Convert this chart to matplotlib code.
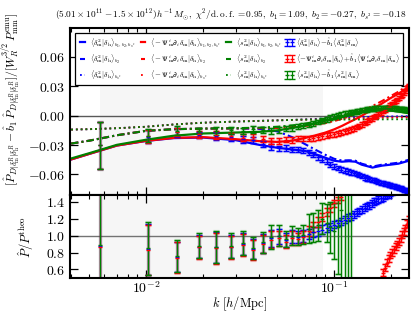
import numpy as np
import matplotlib
matplotlib.use("Agg")
import matplotlib.pyplot as plt
from matplotlib.ticker import FixedLocator, FuncFormatter, NullFormatter

plt.rcParams['font.family'] = 'serif'
plt.rcParams['font.serif'] = ['DejaVu Serif']
plt.rcParams['mathtext.fontset'] = 'cm'

# k bins of the measured points [h/Mpc]
k_bins = [0.0057, 0.0102, 0.0147, 0.0192, 0.0237, 0.0282, 0.0327, 0.0372, 0.0417, 0.0462,
          0.0507, 0.0552, 0.0597, 0.0642, 0.0687, 0.0732, 0.0777, 0.0822, 0.0867, 0.0912,
          0.0957, 0.1002, 0.1047, 0.1092, 0.1137, 0.1182, 0.1227, 0.1272, 0.1317, 0.1362,
          0.1407, 0.1452, 0.1497, 0.1542, 0.1587, 0.1632, 0.1677, 0.1722, 0.1767, 0.1812,
          0.1857, 0.1902, 0.1947, 0.1992, 0.2037, 0.2082, 0.2127, 0.2172, 0.2217, 0.2262,
          0.2307, 0.2352, 0.2397, 0.2442, 0.2487]

# measured points, upper panel
blue_up = [-0.0300, -0.0214, -0.0170, -0.0195, -0.0204, -0.0219, -0.0243, -0.0250, -0.0285, -0.0318,
           -0.0335, -0.0330, -0.0348, -0.0350, -0.0360, -0.0380, -0.0400, -0.0425, -0.0450, -0.0470,
           -0.0500, -0.0520, -0.0535, -0.0550, -0.0560, -0.0570, -0.0580, -0.0585, -0.0595, -0.0605,
           -0.0615, -0.0630, -0.0640, -0.0650, -0.0655, -0.0660, -0.0670, -0.0680, -0.0685, -0.0690,
           -0.0695, -0.0700, -0.0705, -0.0710, -0.0715, -0.0720, -0.0725, -0.0730, -0.0735, -0.0742,
           -0.0750, -0.0757, -0.0763, -0.0770, -0.0780]
red_up = [-0.0300, -0.0212, -0.0168, -0.0191, -0.0197, -0.0208, -0.0223, -0.0213, -0.0236, -0.0255,
          -0.0262, -0.0245, -0.0248, -0.0236, -0.0230, -0.0235, -0.0230, -0.0222, -0.0210, -0.0205,
          -0.0195, -0.0190, -0.0180, -0.0175, -0.0160, -0.0150, -0.0140, -0.0130, -0.0115, -0.0103,
          -0.0090, -0.0075, -0.0060, -0.0045, -0.0030, -0.0015, 0.0000, 0.0015, 0.0030, 0.0045,
          0.0060, 0.0075, 0.0090, 0.0105, 0.0120, 0.0135, 0.0150, 0.0165, 0.0180, 0.0197,
          0.0215, 0.0235, 0.0255, 0.0280, 0.0305]
green_up = [-0.0300, -0.0205, -0.0152, -0.0160, -0.0154, -0.0151, -0.0154, -0.0141, -0.0150, -0.0154,
            -0.0148, -0.0131, -0.0125, -0.0113, -0.0103, -0.0095, -0.0080, -0.0065, -0.0050, -0.0035,
            -0.0020, -0.0010, 0.0003, 0.0012, 0.0020, 0.0028, 0.0035, 0.0040, 0.0045, 0.0050,
            0.0055, 0.0060, 0.0064, 0.0068, 0.0071, 0.0073, 0.0075, 0.0076, 0.0077, 0.0078,
            0.0078, 0.0078, 0.0077, 0.0077, 0.0076, 0.0075, 0.0074, 0.0072, 0.0070, 0.0068,
            0.0066, 0.0064, 0.0062, 0.0060, 0.0058]
err_up = [0.0240, 0.0068, 0.0043, 0.0032, 0.0040, 0.0035, 0.0033, 0.0031, 0.0030, 0.0030,
          0.0029, 0.0028, 0.0027, 0.0026, 0.0025, 0.0025, 0.0025, 0.0025, 0.0025, 0.0025,
          0.0025, 0.0024, 0.0024, 0.0024, 0.0024, 0.0023, 0.0023, 0.0023, 0.0023, 0.0023,
          0.0022, 0.0022, 0.0022, 0.0022, 0.0022, 0.0022, 0.0021, 0.0021, 0.0021, 0.0021,
          0.0021, 0.0021, 0.0021, 0.0020, 0.0020, 0.0020, 0.0020, 0.0020, 0.0020, 0.0020,
          0.0020, 0.0020, 0.0020, 0.0020, 0.0020]

# ratio to theory, lower panel
blue_ratio = [0.88, 0.84, 0.75, 0.87, 0.86, 0.87, 0.90, 0.84, 0.91, 0.97, 0.99, 0.95, 0.99, 0.98, 1.00,
              1.02, 1.04, 1.05, 1.07, 1.09, 1.11, 1.13, 1.15, 1.17, 1.19, 1.21, 1.23, 1.25, 1.27, 1.29,
              1.31, 1.33, 1.35, 1.36, 1.38, 1.40, 1.41, 1.43, 1.44, 1.45, 1.47, 1.48, 1.49, 1.51, 1.52,
              1.53, 1.54, 1.55, 1.56, 1.57, 1.58, 1.59, 1.60, 1.61, 1.62]
red_ratio = [0.87, 0.83, 0.74, 0.86, 0.85, 0.86, 0.89, 0.83, 0.90, 0.95, 0.97, 0.93, 0.97, 0.96, 0.98,
             1.05, 1.10, 1.16, 1.22, 1.28, 1.33, 1.38, 1.42, 1.46, np.nan, np.nan, np.nan, np.nan, np.nan, np.nan,
             np.nan, np.nan, np.nan, np.nan, np.nan, np.nan, np.nan, np.nan, np.nan, 0.56, 0.62, 0.68, 0.73, 0.77, 0.80,
             0.84, 0.87, 0.90, 0.93, 0.97, 1.01, 1.05, 1.09, 1.14, 1.19]
green_ratio = [0.89, 0.85, 0.76, 0.88, 0.87, 0.88, 0.91, 0.85, 0.92, 0.98, 1.00, 0.96, 1.00, 0.99, 1.01,
               1.08, 1.10, 1.12, 1.20, 1.15, 1.10, 1.05, 1.10, 1.30, 1.60, 2.20, 3.50, np.nan, np.nan, np.nan,
               np.nan, np.nan, np.nan, np.nan, np.nan, np.nan, np.nan, np.nan, np.nan, np.nan, np.nan, np.nan, np.nan, np.nan, np.nan,
               np.nan, np.nan, np.nan, np.nan, np.nan, np.nan, np.nan, np.nan, np.nan, np.nan]
err_ratio = [0.75, 0.30, 0.18, 0.14, 0.18, 0.14, 0.13, 0.12, 0.11, 0.10, 0.09, 0.08, 0.08, 0.07, 0.07,
             0.06, 0.06, 0.055, 0.05, 0.05, 0.045, 0.045, 0.04, 0.04, 0.04, 0.04, 0.04, 0.04, 0.04, 0.04,
             0.04, 0.04, 0.04, 0.04, 0.04, 0.04, 0.04, 0.04, 0.04, 0.04, 0.04, 0.04, 0.04, 0.04, 0.04,
             0.04, 0.04, 0.04, 0.04, 0.04, 0.04, 0.04, 0.04, 0.04, 0.04]
err_green_ratio = [0.78, 0.31, 0.19, 0.15, 0.19, 0.15, 0.14, 0.13, 0.12, 0.14, 0.12, 0.10, 0.11, 0.10, 0.11,
                   0.17, 0.17, 0.18, 0.18, 0.22, 0.30, 0.33, 0.55, 0.90, 1.40, 2.20, 3.30, np.nan, np.nan, np.nan,
                   np.nan, np.nan, np.nan, np.nan, np.nan, np.nan, np.nan, np.nan, np.nan, np.nan, np.nan, np.nan, np.nan, np.nan, np.nan,
                   np.nan, np.nan, np.nan, np.nan, np.nan, np.nan, np.nan, np.nan, np.nan, np.nan]

# model curves (full / b2 only / bs2 only)
k_model = [0.004, 0.005, 0.007, 0.01, 0.014, 0.02, 0.03, 0.04, 0.05, 0.06, 0.07, 0.08,
           0.09, 0.1, 0.11, 0.12, 0.13, 0.14, 0.16, 0.18, 0.2, 0.22, 0.25]
blue_full = [-0.0447, -0.0390, -0.0305, -0.0258, -0.0229, -0.0223, -0.0250, -0.0298, -0.0328, -0.0345, -0.0360, -0.0395,
             -0.0430, -0.0460, -0.0470, -0.0465, -0.0470, -0.0500, -0.0530, -0.0510, -0.0500, -0.0490, -0.0460]
red_full = [-0.0447, -0.0390, -0.0305, -0.0257, -0.0227, -0.0219, -0.0240, -0.0260, -0.0268, -0.0255, -0.0228, -0.0200,
            -0.0172, -0.0140, -0.0105, -0.0068, -0.0035, -0.0002, 0.0065, 0.0125, 0.0180, 0.0225, 0.0295]
green_full = [-0.0437, -0.0383, -0.0298, -0.0246, -0.0205, -0.0182, -0.0172, -0.0165, -0.0150, -0.0126, -0.0100, -0.0075,
              -0.0052, -0.0032, -0.0012, 0.0008, 0.0025, 0.0038, 0.0052, 0.0057, 0.0052, 0.0042, 0.0025]
blue_b2 = [-0.0285, -0.0255, -0.0200, -0.0155, -0.0138, -0.0132, -0.0130, -0.0135, -0.0160, -0.0220, -0.0290, -0.0350,
           -0.0400, -0.0440, -0.0458, -0.0455, -0.0460, -0.0490, -0.0520, -0.0500, -0.0490, -0.0480, -0.0450]
red_b2 = [-0.0285, -0.0255, -0.0200, -0.0155, -0.0138, -0.0132, -0.0130, -0.0128, -0.0125, -0.0118, -0.0105, -0.0090,
          -0.0075, -0.0055, -0.0032, -0.0008, 0.0018, 0.0045, 0.0098, 0.0150, 0.0200, 0.0245, 0.0320]
green_b2 = [-0.0285, -0.0255, -0.0200, -0.0155, -0.0138, -0.0132, -0.0128, -0.0122, -0.0113, -0.0100, -0.0082, -0.0060,
            -0.0038, -0.0015, 0.0005, 0.0025, 0.0042, 0.0055, 0.0068, 0.0072, 0.0070, 0.0066, 0.0060]
blue_bs2 = [-0.0142, -0.0138, -0.0128, -0.0113, -0.0090, -0.0072, -0.0060, -0.0053, -0.0048, -0.0043, -0.0038, -0.0033,
            -0.0028, -0.0024, -0.0021, -0.0018, -0.0016, -0.0014, -0.0011, -0.0010, -0.0008, -0.0007, -0.0005]
red_bs2 = [-0.0142, -0.0138, -0.0128, -0.0113, -0.0090, -0.0072, -0.0060, -0.0053, -0.0048, -0.0043, -0.0040, -0.0038,
           -0.0036, -0.0034, -0.0032, -0.0030, -0.0028, -0.0027, -0.0024, -0.0022, -0.0020, -0.0018, -0.0016]
green_bs2 = [-0.0142, -0.0138, -0.0128, -0.0113, -0.0090, -0.0072, -0.0060, -0.0053, -0.0048, -0.0043, -0.0040, -0.0040,
             -0.0040, -0.0040, -0.0040, -0.0040, -0.0039, -0.0039, -0.0038, -0.0038, -0.0037, -0.0037, -0.0036]

k_span = (0.0057, 0.0875)
colors = {'b': '#0000ff', 'r': '#ff0000', 'g': '#008000'}
dashdot = (0, (3.5, 1.5, 1, 1.5))


def draw_err(ax, y, e, c):
    """Error bars with a soft halo, like the reference."""
    ax.errorbar(k_bins, y, yerr=e, fmt='none', ecolor=c, elinewidth=2.4, capsize=2.4,
                capthick=2.4, alpha=0.15)
    return ax.errorbar(k_bins, y, yerr=e, fmt='_', color=c, ms=3, mew=1, elinewidth=0.9,
                       capsize=2, capthick=0.9)


fig = plt.figure(figsize=(4.16, 3.13), dpi=100)
ax1 = fig.add_axes([0.168, 0.377, 0.815, 0.535])
ax2 = fig.add_axes([0.168, 0.112, 0.815, 0.265])

for ax in (ax1, ax2):
    ax.axvspan(*k_span, color='0.965', zorder=0, lw=0)
ax1.axhline(0, color='0.35', lw=1.0, zorder=1)
ax2.axhline(1, color='0.45', lw=1.0, zorder=1)

# upper panel curves
h_lines = []
for c, full, b2, bs2, lab in [
        ('b', blue_full, blue_b2, blue_bs2, r'\langle\delta^2_{\rm m}|\delta_{\rm h}\rangle'),
        ('r', red_full, red_b2, red_bs2, r'\langle-\Psi^i_{\rm m}\partial_i\delta_{\rm m}|\delta_{\rm h}\rangle'),
        ('g', green_full, green_b2, green_bs2, r'\langle s^2_{\rm m}|\delta_{\rm h}\rangle')]:
    l1, = ax1.plot(k_model, full, color=colors[c], lw=1.6, label='$' + lab + r'_{b_1,b_2,b_{s^2}}$')
    l2, = ax1.plot(k_model, b2, color=colors[c], lw=1.5, ls=dashdot, label='$' + lab + r'_{b_2}$')
    l3, = ax1.plot(k_model, bs2, color=colors[c], lw=1.3, ls=':', label='$' + lab + r'_{b_{s^2}}$')
    h_lines += [l1, l2, l3]

eb_b = draw_err(ax1, blue_up, err_up, colors['b'])
eb_r = draw_err(ax1, red_up, err_up, colors['r'])
eb_g = draw_err(ax1, green_up, err_up, colors['g'])

draw_err(ax2, blue_ratio, err_ratio, colors['b'])
draw_err(ax2, red_ratio, err_ratio, colors['r'])
draw_err(ax2, green_ratio, err_green_ratio, colors['g'])

eb_labels = [r'$\langle\delta^2_{\rm m}|\delta_{\rm h}\rangle\!-\!\hat{b}_1\langle\delta^2_{\rm m}|\delta_{\rm m}\rangle$',
             r'$\langle\!-\!\Psi^i_{\rm m}\partial_i\delta_{\rm m}|\delta_{\rm h}\rangle\!+\!\hat{b}_1\langle\Psi^i_{\rm m}\partial_i\delta_{\rm m}|\delta_{\rm m}\rangle$',
             r'$\langle s^2_{\rm m}|\delta_{\rm h}\rangle\!-\!\hat{b}_1\langle s^2_{\rm m}|\delta_{\rm m}\rangle$']
handles = h_lines + [eb_b, eb_r, eb_g]
labels = [h.get_label() for h in h_lines] + eb_labels
leg = fig.legend(handles, labels, loc='upper center', ncol=4, fontsize=5.4, numpoints=2,
                 handlelength=1.25, handletextpad=0.3, columnspacing=0.45, labelspacing=0.42,
                 borderpad=0.35, fancybox=False, framealpha=1, edgecolor='black',
                 bbox_to_anchor=(0.575, 0.905))
leg.get_frame().set_linewidth(0.9)

for ax in (ax1, ax2):
    ax.set_xscale('log')
    ax.set_xlim(0.00394, 0.25)
    ax.tick_params(which='both', direction='in', top=True, right=True, labelsize=10)
    ax.tick_params(which='major', length=6, width=0.9)
    ax.tick_params(which='minor', length=3, width=0.8)
    ax.tick_params(axis='x', pad=2)
    for s in ax.spines.values():
        s.set_linewidth(1.5)

ax1.set_ylim(-0.081, 0.09)
ax1.yaxis.set_major_locator(FixedLocator([-0.06, -0.03, 0.0, 0.03, 0.06]))
ax1.yaxis.set_major_formatter(FuncFormatter(lambda v, p: '$%.2f$' % v if abs(v) > 1e-9 else '$0.00$'))
ax1.xaxis.set_major_formatter(NullFormatter())
ax1.xaxis.set_minor_formatter(NullFormatter())

ax2.set_ylim(0.5, 1.48)
ax2.yaxis.set_major_locator(FixedLocator([0.6, 0.8, 1.0, 1.2, 1.4]))
ax2.yaxis.set_major_formatter(FuncFormatter(lambda v, p: '$%.1f$' % v))
ax2.xaxis.set_major_locator(FixedLocator([0.01, 0.1]))
ax2.xaxis.set_major_formatter(FuncFormatter(lambda v, p: r'$10^{%d}$' % round(np.log10(v))))
ax2.xaxis.set_minor_formatter(NullFormatter())

fig.text(0.555, 0.95, r'$(5.01\times10^{11}-1.5\times10^{12})\,h^{-1}\,M_{\odot},\ \chi^2/{\rm d.o.f.}=0.95,\ '
         r'b_1=1.09,\ b_2=-0.27,\ b_{s^2}=-0.18$', fontsize=6.7, ha='center', va='center')
ax1.set_ylabel(r'$[\hat{P}_{D|\delta^R_{\rm m}|\delta^R_{\rm h}}-\hat{b}_1\,\hat{P}_{D|\delta^R_{\rm m}|\delta^R_{\rm m}}]'
               r'/[W_R^{3/2}\,P^{\rm emu}_{\rm mm}]$', fontsize=8.4)
ax1.yaxis.set_label_coords(-0.14, 0.57)
ax2.set_ylabel(r'$\hat{P}/P^{\rm theo}$', fontsize=9)
ax2.yaxis.set_label_coords(-0.1, 0.5)
ax2.set_xlabel(r'$k\ [h/{\rm Mpc}]$', fontsize=9, labelpad=-1)

fig.savefig('out.png', dpi=100)
